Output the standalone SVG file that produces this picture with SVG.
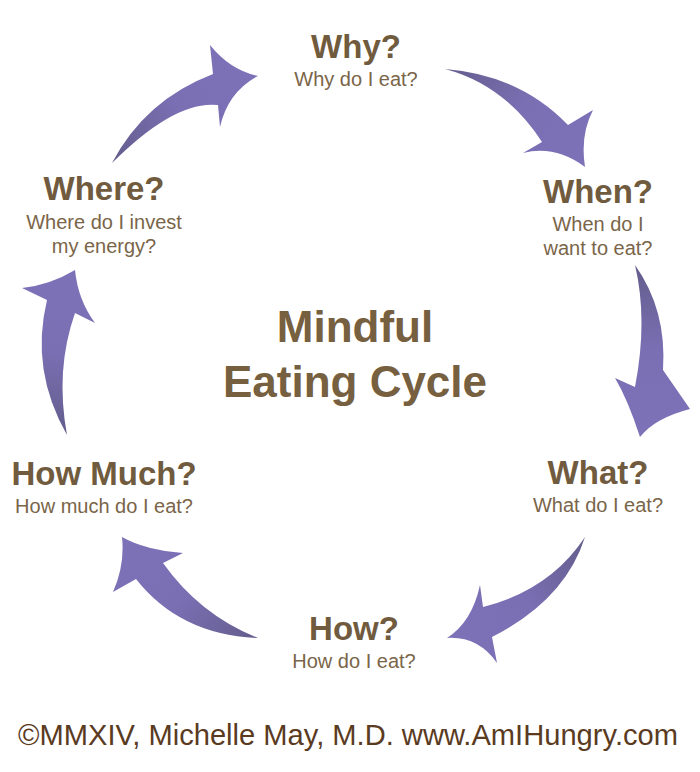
<svg xmlns="http://www.w3.org/2000/svg" width="700" height="772" viewBox="0 0 700 772">
<style>
.h{font-family:"Liberation Sans",Arial,sans-serif;font-weight:bold;font-size:33px;fill:#705b3e;text-anchor:middle}
.s{font-family:"Liberation Sans",Arial,sans-serif;font-size:20px;fill:#7a6549;text-anchor:middle}
.t{font-family:"Liberation Sans",Arial,sans-serif;font-weight:bold;font-size:44px;fill:#76603f;text-anchor:middle}
.f{font-family:"Liberation Sans",Arial,sans-serif;font-size:29px;fill:#5a3b1f}
</style>
<defs>
<linearGradient id="g1" gradientUnits="userSpaceOnUse" x1="112" y1="163" x2="258" y2="76"><stop offset="0" stop-color="#635d8c"/><stop offset="0.5" stop-color="#7a6fb3"/><stop offset="1" stop-color="#7d72b8"/></linearGradient>
<linearGradient id="g2" gradientUnits="userSpaceOnUse" x1="445" y1="69" x2="585" y2="167"><stop offset="0" stop-color="#635d8c"/><stop offset="0.5" stop-color="#7a6fb3"/><stop offset="1" stop-color="#7d72b8"/></linearGradient>
<linearGradient id="g3" gradientUnits="userSpaceOnUse" x1="635" y1="265" x2="640" y2="437"><stop offset="0" stop-color="#635d8c"/><stop offset="0.5" stop-color="#7a6fb3"/><stop offset="1" stop-color="#7d72b8"/></linearGradient>
<linearGradient id="g4" gradientUnits="userSpaceOnUse" x1="585" y1="537" x2="447" y2="638"><stop offset="0" stop-color="#635d8c"/><stop offset="0.5" stop-color="#7a6fb3"/><stop offset="1" stop-color="#7d72b8"/></linearGradient>
<linearGradient id="g5" gradientUnits="userSpaceOnUse" x1="258" y1="638" x2="122" y2="537"><stop offset="0" stop-color="#635d8c"/><stop offset="0.5" stop-color="#7a6fb3"/><stop offset="1" stop-color="#7d72b8"/></linearGradient>
<linearGradient id="g6" gradientUnits="userSpaceOnUse" x1="67" y1="435" x2="75" y2="270"><stop offset="0" stop-color="#635d8c"/><stop offset="0.5" stop-color="#7a6fb3"/><stop offset="1" stop-color="#7d72b8"/></linearGradient>
</defs>
<rect width="700" height="772" fill="#ffffff"/>
<g id="connectors">
<path fill="url(#g1)" d="M112,163 Q145,100 213,74 L210,45 Q230,70 258,76 Q228,92 220,127 L218,105 Q175,100 112,163 Z"/>
<path fill="url(#g2)" d="M445,69 Q520,75 568,125 L593,110 Q580,135 585,167 Q555,145 523,153 L542,142 Q505,85 445,69 Z"/>
<path fill="url(#g3)" d="M635,265 Q667,310 663,370 L690,409 Q655,418 640,437 Q628,400 615,378 L635,387 Q648,320 635,265 Z"/>
<path fill="url(#g4)" d="M585,537 Q550,590 483,607 L480,585 Q472,622 447,638 Q478,636 497,663 L492,637 Q565,600 585,537 Z"/>
<path fill="url(#g5)" d="M258,638 Q200,615 163,563 L183,553 Q145,550 122,537 Q125,565 113,592 L136,579 Q180,635 258,638 Z"/>
<path fill="url(#g6)" d="M67,435 Q30,370 47,300 L22,288 Q50,285 75,270 Q78,300 95,323 L75,313 Q55,370 67,435 Z"/>
</g>
<g id="title">
<text class="t" x="355" y="342">Mindful</text>
<text class="t" x="355" y="397">Eating Cycle</text>
</g>
<g id="why">
<text class="h" x="356" y="58">Why?</text>
<text class="s" x="356" y="86">Why do I eat?</text>
</g>
<g id="when">
<text class="h" x="598" y="203">When?</text>
<text class="s" x="598" y="231">When do I</text>
<text class="s" x="598" y="255">want to eat?</text>
</g>
<g id="what">
<text class="h" x="598" y="484">What?</text>
<text class="s" x="598" y="512">What do I eat?</text>
</g>
<g id="how">
<text class="h" x="354" y="640">How?</text>
<text class="s" x="354" y="668">How do I eat?</text>
</g>
<g id="howmuch">
<text class="h" x="104" y="485">How Much?</text>
<text class="s" x="104" y="513">How much do I eat?</text>
</g>
<g id="where">
<text class="h" x="104" y="200">Where?</text>
<text class="s" x="104" y="229">Where do I invest</text>
<text class="s" x="104" y="253">my energy?</text>
</g>
<g id="footer">
<text class="f" x="18" y="745" textLength="660" lengthAdjust="spacingAndGlyphs">©MMXIV, Michelle May, M.D. www.AmIHungry.com</text>
</g>
</svg>
